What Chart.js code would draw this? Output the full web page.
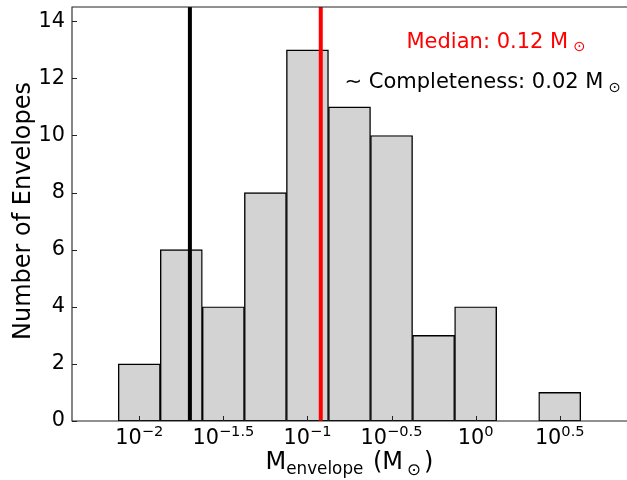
<!DOCTYPE html>
<html>
<head>
<meta charset="utf-8">
<script src="https://cdn.jsdelivr.net/npm/chart.js@4.4.0/dist/chart.umd.min.js"></script>
<style>
  html, body { margin: 0; padding: 0; background: #fff; }
  canvas { display: block; }
</style>
</head>
<body>
<canvas id="envelopeHist" width="627" height="480"></canvas>
<script>
// Envelope mass histogram, binned in log10(M / Msun), 0.25 dex bins
const binCentersLog = [-2, -1.75, -1.5, -1.25, -1, -0.75, -0.5, -0.25, 0, 0.5];
const envelopeCounts = [2, 6, 4, 8, 13, 11, 10, 3, 4, 1];
const tickExponents = [-2, -1.5, -1, -0.5, 0, 0.5];
const yTicks = [0, 2, 4, 6, 8, 10, 12, 14];
const completenessMass = 0.02; // Msun
const medianMass = 0.12; // Msun

const FONT = '"DejaVu Sans", sans-serif';

/**
 * Draw a run of text pieces (normal / sub / superscript) on one baseline
 * @param {CanvasRenderingContext2D} ctx
 * @param {Array<Object>} runs - {t, size, dy, gap}
 * @param {number} x - anchor x
 * @param {number} y - baseline
 * @param {string} align - "left" or "center"
 */
function drawRuns(ctx, runs, x, y, align) {
  let total = 0;
  runs.forEach((r) => {
    ctx.font = `${r.size}px ${FONT}`;
    r.w = ctx.measureText(r.t).width;
    total += r.w + (r.gap || 0);
  });
  let cx = align === "center" ? x - total / 2 : x;
  ctx.textAlign = "left";
  ctx.textBaseline = "alphabetic";
  runs.forEach((r) => {
    cx += r.gap || 0;
    ctx.font = `${r.size}px ${FONT}`;
    ctx.fillText(r.t, cx, y + (r.dy || 0));
    cx += r.w;
  });
}

function fmtExp(e) {
  if (e === 0) return "0";
  return (e < 0 ? "\u2212" : "") + Math.abs(e);
}

// frame, inward ticks, superscript tick labels, axis labels and notes
const decorPlugin = {
  id: "decor",
  afterDraw(chart) {
    const { ctx, chartArea: a, scales } = chart;
    const xs = scales.x;
    const ys = scales.y;
    ctx.save();

    // inward ticks
    ctx.strokeStyle = "#222";
    ctx.lineWidth = 1;
    tickExponents.forEach((e) => {
      const px = Math.round(xs.getPixelForValue(e)) + 0.5;
      ctx.beginPath();
      ctx.moveTo(px, a.bottom);
      ctx.lineTo(px, a.bottom - 5);
      ctx.stroke();
    });
    yTicks.forEach((v) => {
      const py = Math.round(ys.getPixelForValue(v)) + 0.5;
      ctx.beginPath();
      ctx.moveTo(a.left, py);
      ctx.lineTo(a.left + 5, py);
      ctx.stroke();
    });

    // spines (left, bottom, top)
    ctx.strokeStyle = "#222";
    ctx.lineWidth = 1.1;
    ctx.beginPath();
    ctx.moveTo(a.right + 1, a.top);
    ctx.lineTo(a.left, a.top);
    ctx.lineTo(a.left, a.bottom);
    ctx.lineTo(a.right + 1, a.bottom);
    ctx.stroke();

    // x tick labels 10^e
    ctx.fillStyle = "#000";
    tickExponents.forEach((e) => {
      drawRuns(ctx, [
        { t: "10", size: 20.8 },
        { t: fmtExp(e), size: 14.6, dy: -7.8 },
      ], xs.getPixelForValue(e), 443.5, "center");
    });

    // x axis label
    drawRuns(ctx, [
      { t: "M", size: 24 },
      { t: "envelope", size: 16.8, dy: 5 },
      { t: " (M", size: 24, gap: 2 },
      { t: "\u2299", size: 16.8, dy: 6, gap: 4 },
      { t: ")", size: 24, gap: 3 },
    ], (a.left + a.right) / 2, 469, "center");

    // y axis label
    ctx.save();
    ctx.translate(30, (a.top + a.bottom) / 2 - 3);
    ctx.rotate(-Math.PI / 2);
    ctx.font = `24px ${FONT}`;
    ctx.textAlign = "center";
    ctx.textBaseline = "alphabetic";
    ctx.fillText("Number of Envelopes", 0, 0);
    ctx.restore();

    // annotations
    ctx.fillStyle = "#ff0000";
    drawRuns(ctx, [
      { t: "Median: " + medianMass.toFixed(2) + " M", size: 21 },
      { t: "\u2299", size: 14.7, dy: 3.5, gap: 5 },
    ], 406.5, 47.7, "left");
    ctx.fillStyle = "#000";
    drawRuns(ctx, [
      { t: "\u223C Completeness: " + completenessMass.toFixed(2) + " M", size: 21 },
      { t: "\u2299", size: 14.7, dy: 3.5, gap: 5 },
    ], 344.5, 88.3, "left");

    ctx.restore();
  },
};

function vline(value, color) {
  const lx = Math.log10(value);
  return {
    type: "line",
    data: [{ x: lx, y: 0 }, { x: lx, y: 14.5 }],
    borderColor: color,
    borderWidth: 4,
    pointRadius: 0,
    clip: 0,
    order: 0,
  };
}

const histCtx = document.getElementById("envelopeHist");
new Chart(histCtx, {
  type: "bar",
  data: {
    datasets: [
      vline(completenessMass, "#000000"),
      vline(medianMass, "#ff0000"),
      {
        type: "bar",
        data: binCentersLog.map((x, i) => ({ x: x, y: envelopeCounts[i] })),
        backgroundColor: "#d3d3d3",
        borderColor: "#000000",
        borderWidth: 1.4,
        borderSkipped: false,
        barPercentage: 1,
        categoryPercentage: 1,
        order: 1,
      },
    ],
  },
  options: {
    responsive: false,
    devicePixelRatio: 1,
    animation: false,
    layout: { padding: { top: 7, left: 0, right: 0, bottom: 0 } },
    plugins: {
      legend: { display: false },
      tooltip: { enabled: false },
    },
    scales: {
      x: {
        type: "linear",
        min: -2.4,
        max: 0.9,
        offset: false,
        grid: { display: false, drawTicks: false },
        border: { display: false },
        ticks: { display: false },
        afterFit: (scale) => {
          scale.height = 59;
          scale.paddingLeft = 0;
          scale.paddingRight = 0;
        },
      },
      y: {
        type: "linear",
        min: 0,
        max: 14.5,
        grid: { display: false, drawTicks: false },
        border: { display: false },
        ticks: {
          padding: 7,
          color: "#000",
          font: { family: "DejaVu Sans", size: 20.8 },
        },
        afterBuildTicks: (scale) => {
          scale.ticks = yTicks.map((v) => ({ value: v }));
        },
        afterFit: (scale) => {
          scale.width = 72;
          scale.paddingTop = 0;
          scale.paddingBottom = 0;
        },
      },
    },
  },
  plugins: [decorPlugin],
});
</script>
</body>
</html>
